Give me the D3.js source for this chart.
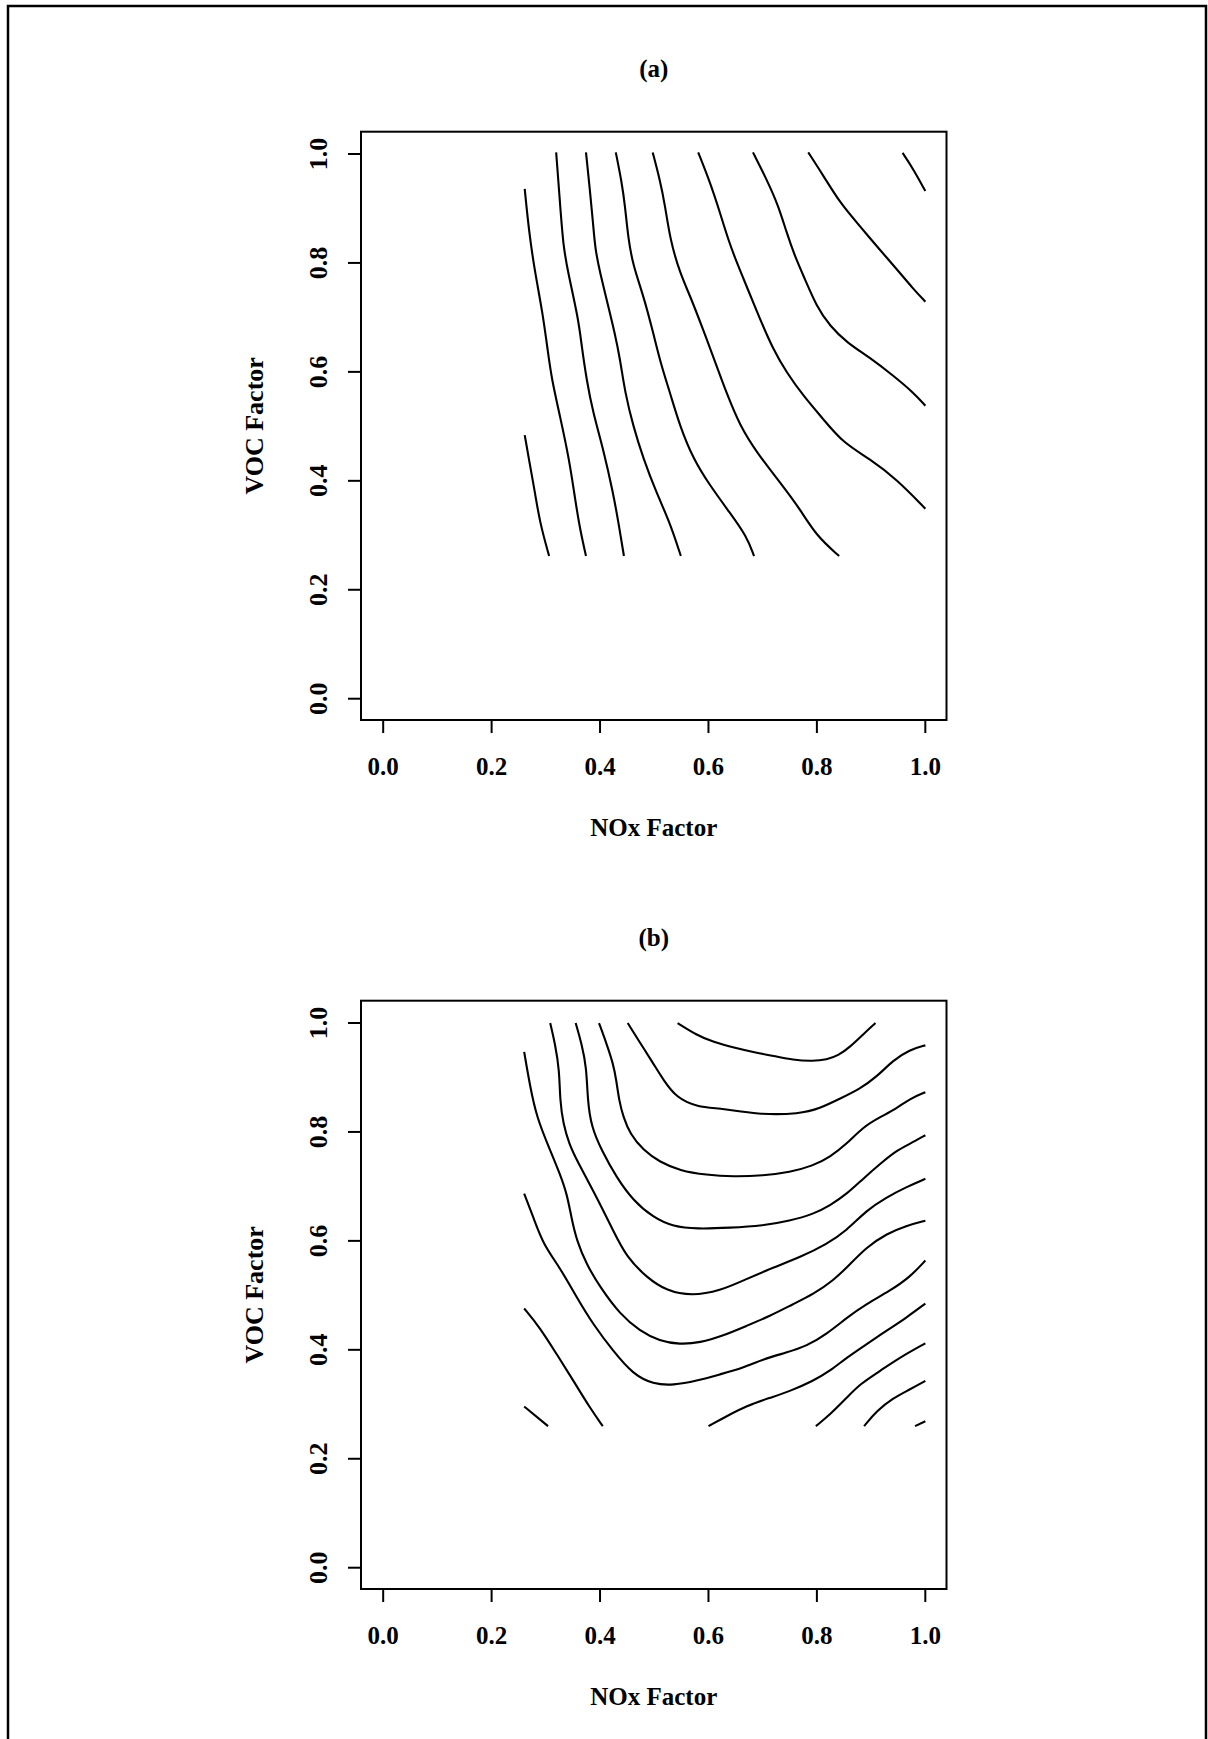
<!DOCTYPE html>
<html>
<head>
<meta charset="utf-8">
<script src="https://cdn.jsdelivr.net/npm/d3@7"></script>
<style>
    body { margin: 0; background: #fff; }
    svg { display: block; }
    text { font-family: "Liberation Serif", "Times New Roman", serif; font-weight: bold; fill: #000; }
</style>
</head>
<body>
<div id="chart"></div>
<script>
//axis ticks (same on both axes, both panels):
var tickValues = [0, 0.2, 0.4, 0.6, 0.8, 1.0];
var tickLabels = ["0.0", "0.2", "0.4", "0.6", "0.8", "1.0"];

var panelTitles = ["(a)", "(b)"];
var xTitle = "NOx Factor";
var yTitle = "VOC Factor";

//contour lines of panel (a), [NOx, VOC] pairs
var contoursA = [
    [[0.262,0.483],[0.272,0.426],[0.281,0.377],[0.290,0.322],[0.307,0.261]],
    [[0.262,0.935],[0.270,0.855],[0.281,0.781],[0.295,0.708],[0.305,0.634],[0.312,0.585],[0.327,0.518],[0.344,0.439],[0.355,0.365],[0.364,0.310],[0.375,0.261]],
    [[0.320,1.002],[0.327,0.910],[0.333,0.830],[0.342,0.781],[0.361,0.696],[0.367,0.647],[0.376,0.585],[0.388,0.524],[0.407,0.457],[0.425,0.377],[0.435,0.322],[0.445,0.261]],
    [[0.375,1.002],[0.382,0.935],[0.388,0.873],[0.392,0.824],[0.401,0.781],[0.416,0.720],[0.428,0.671],[0.438,0.622],[0.447,0.561],[0.462,0.500],[0.481,0.439],[0.505,0.377],[0.530,0.322],[0.550,0.261]],
    [[0.430,1.002],[0.441,0.947],[0.447,0.904],[0.453,0.843],[0.462,0.794],[0.481,0.739],[0.499,0.671],[0.514,0.610],[0.530,0.561],[0.548,0.500],[0.573,0.439],[0.604,0.390],[0.640,0.341],[0.671,0.298],[0.685,0.261]],
    [[0.498,1.002],[0.511,0.953],[0.521,0.904],[0.530,0.843],[0.548,0.781],[0.567,0.739],[0.591,0.677],[0.616,0.610],[0.634,0.561],[0.659,0.500],[0.690,0.451],[0.733,0.396],[0.770,0.347],[0.800,0.298],[0.842,0.261]],
    [[0.582,1.002],[0.604,0.947],[0.622,0.892],[0.637,0.843],[0.653,0.800],[0.671,0.757],[0.696,0.696],[0.720,0.641],[0.745,0.598],[0.776,0.555],[0.813,0.512],[0.849,0.469],[0.899,0.439],[0.948,0.402],[1.001,0.348]],
    [[0.683,1.002],[0.708,0.953],[0.730,0.904],[0.745,0.855],[0.760,0.812],[0.779,0.769],[0.800,0.720],[0.825,0.683],[0.856,0.653],[0.899,0.625],[0.942,0.592],[0.979,0.561],[1.001,0.537]],
    [[0.785,1.002],[0.813,0.959],[0.843,0.910],[0.880,0.867],[0.911,0.830],[0.948,0.788],[0.979,0.751],[1.001,0.728]],
    [[0.959,1.001],[0.979,0.971],[1.001,0.931]]
];

//contour lines of panel (b)
var contoursB = [
    [[0.544,0.999],[0.579,0.977],[0.610,0.964],[0.647,0.954],[0.690,0.944],[0.720,0.939],[0.757,0.931],[0.794,0.929],[0.819,0.932],[0.840,0.939],[0.862,0.955],[0.886,0.978],[0.909,0.999]],
    [[0.452,0.999],[0.474,0.964],[0.499,0.925],[0.518,0.894],[0.542,0.862],[0.579,0.845],[0.628,0.842],[0.690,0.831],[0.770,0.832],[0.806,0.842],[0.843,0.860],[0.880,0.878],[0.911,0.900],[0.942,0.931],[0.972,0.950],[1.001,0.958]],
    [[0.399,0.999],[0.413,0.961],[0.425,0.925],[0.431,0.894],[0.436,0.857],[0.444,0.826],[0.456,0.796],[0.481,0.765],[0.511,0.744],[0.548,0.728],[0.597,0.720],[0.647,0.717],[0.702,0.719],[0.751,0.725],[0.794,0.737],[0.825,0.753],[0.856,0.777],[0.886,0.808],[0.917,0.826],[0.948,0.842],[0.972,0.860],[1.001,0.872]],
    [[0.356,0.999],[0.367,0.961],[0.376,0.918],[0.378,0.857],[0.385,0.808],[0.404,0.765],[0.431,0.716],[0.462,0.673],[0.499,0.642],[0.536,0.625],[0.579,0.621],[0.640,0.623],[0.702,0.627],[0.751,0.636],[0.794,0.648],[0.825,0.664],[0.856,0.685],[0.886,0.713],[0.917,0.740],[0.948,0.765],[0.972,0.777],[1.001,0.793]],
    [[0.309,0.999],[0.318,0.961],[0.326,0.912],[0.327,0.857],[0.333,0.814],[0.344,0.777],[0.358,0.747],[0.395,0.679],[0.425,0.618],[0.450,0.569],[0.487,0.532],[0.524,0.507],[0.570,0.498],[0.622,0.507],[0.671,0.529],[0.720,0.550],[0.770,0.569],[0.819,0.593],[0.856,0.618],[0.892,0.655],[0.929,0.679],[0.966,0.698],[1.001,0.713]],
    [[0.261,0.946],[0.272,0.882],[0.284,0.826],[0.309,0.765],[0.327,0.722],[0.340,0.685],[0.348,0.642],[0.358,0.599],[0.376,0.556],[0.401,0.514],[0.438,0.464],[0.474,0.434],[0.511,0.415],[0.548,0.409],[0.585,0.412],[0.628,0.425],[0.671,0.443],[0.714,0.461],[0.757,0.483],[0.794,0.501],[0.831,0.526],[0.862,0.556],[0.892,0.587],[0.929,0.612],[0.966,0.627],[1.001,0.636]],
    [[0.261,0.686],[0.278,0.642],[0.296,0.593],[0.327,0.550],[0.358,0.495],[0.388,0.446],[0.425,0.397],[0.462,0.354],[0.499,0.336],[0.536,0.334],[0.579,0.342],[0.622,0.354],[0.665,0.366],[0.702,0.382],[0.745,0.394],[0.782,0.406],[0.819,0.428],[0.856,0.458],[0.892,0.483],[0.935,0.507],[0.972,0.532],[1.001,0.563]],
    [[0.261,0.475],[0.290,0.440],[0.321,0.391],[0.352,0.342],[0.382,0.293],[0.406,0.259]],
    [[0.261,0.295],[0.305,0.259]],
    [[0.601,0.259],[0.634,0.277],[0.671,0.296],[0.714,0.311],[0.751,0.323],[0.794,0.342],[0.825,0.360],[0.856,0.385],[0.892,0.409],[0.929,0.434],[0.966,0.458],[1.001,0.484]],
    [[0.799,0.259],[0.825,0.280],[0.856,0.311],[0.880,0.336],[0.917,0.360],[0.954,0.385],[1.001,0.411]],
    [[0.888,0.259],[0.911,0.287],[0.942,0.311],[0.972,0.326],[1.001,0.342]],
    [[0.982,0.259],[1.001,0.268]]
];

var width = 1208, height = 1739;

var svg = d3.select("#chart")
    .append("svg")
    .attr("width", width)
    .attr("height", height);

//page frame (scanned figure border, no bottom edge)
svg.append("path")
    .attr("d", "M8,1739 L8,6 L1206,6 L1206,1739")
    .attr("fill", "none")
    .attr("stroke", "#000")
    .attr("stroke-width", 2.5);

//plot box geometry
var boxLeft = 361, boxRight = 946.5, boxHeight = 588.3;
var panelTops = [131.7, 1000.7];

var xScale = d3.scaleLinear()
    .domain([-0.04, 1.04])
    .range([boxLeft, boxRight]);

function drawPanel(top, title, contours) {
    var bottom = top + boxHeight;
    var yScale = d3.scaleLinear()
        .domain([-0.04, 1.04])
        .range([bottom, top]);

    //panel title
    svg.append("text")
        .attr("x", (boxLeft + boxRight) / 2)
        .attr("y", top - 55)
        .attr("text-anchor", "middle")
        .style("font-size", "25px")
        .text(title);

    //contours
    var line = d3.line()
        .x(function (d) { return xScale(d[0]); })
        .y(function (d) { return yScale(d[1]); })
        .curve(d3.curveBasis);

    svg.append("g")
        .selectAll("path")
        .data(contours)
        .enter().append("path")
        .attr("d", line)
        .attr("fill", "none")
        .attr("stroke", "#000")
        .attr("stroke-width", 2.1);

    //x axis
    var xAxis = d3.axisBottom(xScale)
        .tickValues(tickValues)
        .tickSize(13)
        .tickFormat(function (d, i) { return tickLabels[i]; });
    var gx = svg.append("g")
        .attr("transform", "translate(0," + bottom + ")")
        .call(xAxis);
    gx.select(".domain").remove();
    gx.selectAll("line").attr("stroke-width", 2);
    gx.selectAll("text")
        .attr("y", 55)
        .attr("dy", null)
        .attr("fill", "#000")
        .style("font-size", "25px")
        .style("font-family", "Liberation Serif, serif");

    //y axis, labels turned parallel to the axis
    var yAxis = d3.axisLeft(yScale)
        .tickValues(tickValues)
        .tickSize(13)
        .tickFormat(function (d, i) { return tickLabels[i]; });
    var gy = svg.append("g")
        .attr("transform", "translate(" + boxLeft + ",0)")
        .call(yAxis);
    gy.select(".domain").remove();
    gy.selectAll("line").attr("stroke-width", 2);
    gy.selectAll("text")
        .attr("x", null)
        .attr("dy", null)
        .attr("text-anchor", "middle")
        .attr("transform", "translate(-34,0) rotate(-90)")
        .attr("fill", "#000")
        .style("font-size", "26px")
        .style("font-family", "Liberation Serif, serif");

    //box
    svg.append("rect")
        .attr("x", boxLeft)
        .attr("y", top)
        .attr("width", boxRight - boxLeft)
        .attr("height", boxHeight)
        .attr("fill", "none")
        .attr("stroke", "#000")
        .attr("stroke-width", 2);

    //axis titles
    svg.append("text")
        .attr("x", (boxLeft + boxRight) / 2)
        .attr("y", bottom + 116)
        .attr("text-anchor", "middle")
        .style("font-size", "25px")
        .text(xTitle);

    svg.append("text")
        .attr("transform", "translate(263," + (top + boxHeight / 2) + ") rotate(-90)")
        .attr("text-anchor", "middle")
        .style("font-size", "26px")
        .text(yTitle);
}

drawPanel(panelTops[0], panelTitles[0], contoursA);
drawPanel(panelTops[1], panelTitles[1], contoursB);
</script>
</body>
</html>
